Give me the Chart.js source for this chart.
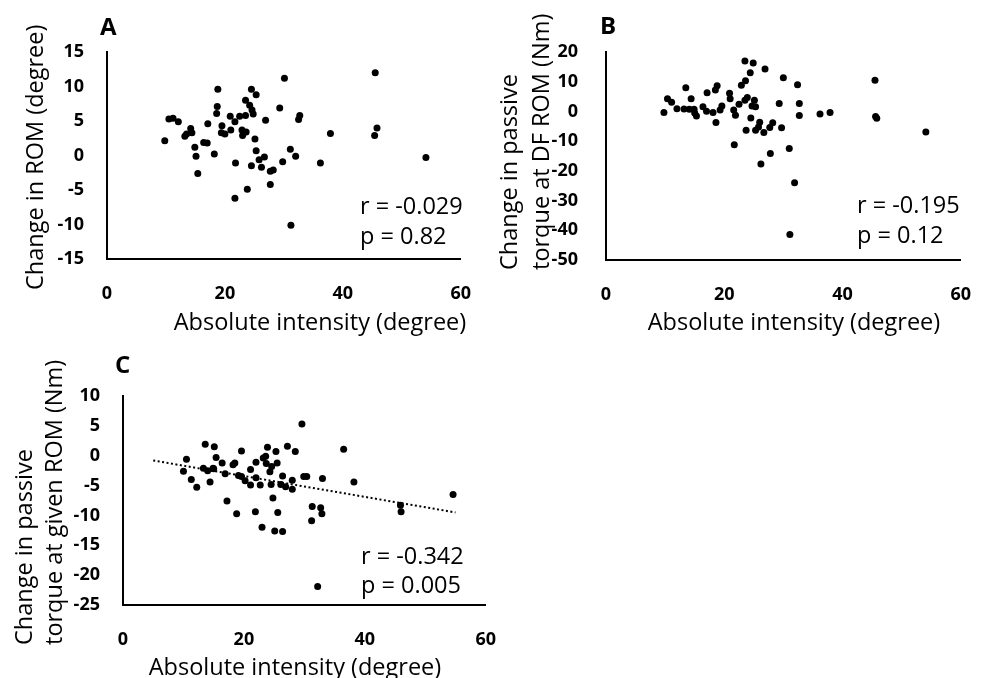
<!DOCTYPE html>
<html>
<head>
<meta charset="utf-8">
<script src="https://cdn.jsdelivr.net/npm/chart.js@4.4.1/dist/chart.umd.min.js"></script>
<style>
  body { margin: 0; background: #fff; width: 995px; height: 678px; overflow: hidden; position: relative; }
  .panel { position: absolute; }
</style>
</head>
<body>
<div class="panel" style="left:0;top:0;width:495px;height:340px"><canvas id="chartA"></canvas></div>
<div class="panel" style="left:490px;top:0;width:505px;height:340px"><canvas id="chartB"></canvas></div>
<div class="panel" style="left:0;top:330px;width:520px;height:348px"><canvas id="chartC"></canvas></div>
<script>
// ---- data ----
const xTicks = [0, 20, 40, 60];
const yTicksA = [-15, -10, -5, 0, 5, 10, 15];
const yTicksB = [-50, -40, -30, -20, -10, 0, 10, 20];
const yTicksC = [-25, -20, -15, -10, -5, 0, 5, 10];

const xTitle = 'Absolute intensity (degree)';
const yTitleA = ['Change in ROM (degree)'];
const yTitleB = ['Change in passive', 'torque at DF ROM (Nm)'];
const yTitleC = ['Change in passive', 'torque at given ROM (Nm)'];

const statsA = ['r = -0.029', 'p = 0.82'];
const statsB = ['r = -0.195', 'p = 0.12'];
const statsC = ['r = -0.342', 'p = 0.005'];

// A: change in ROM
const aX = [9.8, 10.5, 11.2, 12.1, 13.2, 13.5, 14.2, 14.4, 14.9, 15.1, 15.4, 16.4, 17.0, 17.1, 18.2, 18.6, 18.7, 18.8, 19.5, 19.4,
  20.0, 20.9, 21.0, 21.7, 21.8, 21.7, 22.5, 22.9, 23.0, 23.5, 23.5, 23.6, 23.8, 24.2, 24.5, 24.6, 24.8, 25.3, 24.5, 25.1,
  25.3, 25.8, 26.2, 26.7, 26.9, 27.7, 28.2, 27.7, 29.3, 29.8, 30.1, 31.1, 31.2, 32.0, 32.5, 32.7, 36.2, 37.9, 45.5, 45.8,
  45.4, 54.1];
const aY = [2.15, 5.3, 5.4, 4.9, 2.8, 3.1, 3.9, 3.3, 1.2, -0.1, -2.6, 1.9, 1.8, 4.6, 0.2, 6.1, 7.1, 9.6, 4.3, 3.3,
  3.1, 5.7, 3.7, 4.9, -1.1, -6.2, 5.7, 3.7, 2.9, 5.8, 8.0, 3.4, -4.9, 7.3, 9.6, 6.6, 6.0, 8.8, -1.5, 2.4,
  0.7, -0.6, -1.7, -0.2, 5.1, -2.3, -2.1, -4.2, 6.9, -0.9, 11.2, 0.9, -10.1, -0.1, 5.2, 5.8, -1.1, 3.2, 12.0, 4.0,
  2.9, -0.3];

// B: change in passive torque at DF ROM
const bX = [9.8, 10.4, 11.1, 12.0, 13.5, 13.2, 14.1, 14.4, 14.9, 15.3, 15.0, 16.4, 17.0, 17.1, 18.1, 18.5, 18.8, 18.6, 19.3, 19.6,
  20.9, 21.0, 21.6, 21.9, 21.7, 22.5, 22.9, 23.5, 23.6, 23.7, 23.5, 23.9, 24.4, 24.5, 24.9, 25.1, 25.3, 24.7, 25.3, 25.8,
  26.2, 26.0, 26.7, 26.9, 27.7, 27.8, 28.2, 29.3, 29.7, 30.0, 31.0, 31.1, 31.9, 32.4, 32.7, 32.7, 36.2, 37.9, 45.5, 45.6,
  45.8, 54.1];
const bY = [-0.4, 4.3, 3.1, 0.9, 8.0, 0.8, 0.7, 4.3, 0.7, -1.5, -0.5, 1.6, 0.1, 6.3, -0.4, 7.2, 8.6, -3.7, 0.5, 1.8,
  6.1, 4.3, 0.5, -1.3, -11.2, 2.4, 8.8, 17.0, 10.3, -6.3, 3.8, 4.7, 13.0, -2.2, 16.3, 3.8, 1.6, 1.8, -6.3, -5.2,
  -17.7, -3.6, -7.1, 14.3, -5.4, -14.2, -3.8, 2.7, -5.5, 11.3, -12.5, -41.4, -24.0, 9.0, 2.7, -1.4, -0.9, -0.4, 10.5, -1.7,
  -2.3, -6.9];

// C: change in passive torque at given ROM
const cX = [10.0, 10.5, 11.3, 12.2, 13.3, 13.6, 14.0, 14.4, 14.9, 15.0, 15.1, 15.4, 16.4, 16.9, 17.2, 18.2, 18.5, 18.8, 19.1, 19.6,
  19.6, 20.2, 21.1, 21.1, 21.9, 22.0, 22.0, 22.7, 23.0, 23.2, 23.6, 23.9, 23.7, 24.3, 24.6, 24.5, 24.8, 25.1, 25.3, 25.5,
  25.6, 26.1, 26.4, 26.4, 26.9, 27.2, 28.0, 28.0, 28.5, 29.6, 29.9, 30.4, 31.3, 31.2, 32.7, 32.9, 33.0, 32.2, 36.5, 38.2,
  45.9, 46.0, 54.6];
const cY = [-2.6, -0.6, -4.0, -5.3, -2.1, 1.9, -2.5, -4.4, -2.1, -2.2, 1.5, -0.3, -1.2, -3.0, -7.6, -1.5, -1.2, -9.7, -3.3, 0.8,
  -3.5, -4.2, -2.3, -4.9, -9.4, -3.7, -1.1, -4.9, -12.0, -0.4, -0.1, 1.4, -1.3, -2.7, -1.8, -4.8, -7.1, -12.6, 0.7, -1.2,
  -9.5, -4.8, -3.4, -12.7, -5.2, 1.6, -4.1, -5.6, 0.7, 5.3, -3.5, -3.5, -8.5, -10.9, -8.7, -9.7, -3.8, -21.9, 1.1, -4.4,
  -8.3, -9.4, -6.5];

// regression line shown in C
const trendX = [5, 55];
const trendY = [-0.8, -9.5];

// ---- drawing ----
Chart.defaults.font.family = "'Open Sans', sans-serif";
Chart.defaults.color = '#000';

const TEXT_FONT = "23.5px 'Open Sans'";
const LETTER_FONT = "bold 24px 'Open Sans'";

// draws panel letter, axis titles and r / p values as canvas text
const notesPlugin = {
  id: 'notes',
  afterDraw(chart, args, opts) {
    const ctx = chart.ctx;
    (opts.items || []).forEach(function (n) {
      ctx.save();
      ctx.font = n.font;
      ctx.fillStyle = '#000';
      ctx.textBaseline = 'alphabetic';
      ctx.textAlign = n.align || 'left';
      ctx.translate(n.x, n.y);
      if (n.rotate) ctx.rotate(-Math.PI / 2);
      ctx.fillText(n.text, 0, 0);
      ctx.restore();
    });
  }
};

function toPoints(xs, ys) {
  return xs.map(function (x, i) { return { x: x, y: ys[i] }; });
}

function buildNotes(p) {
  let items = [{ text: p.letter, x: p.letterPos[0], y: p.letterPos[1], font: LETTER_FONT }];
  p.yTitle.forEach(function (line, i) {
    items.push({ text: line, x: p.yTitleX[i], y: p.yTitleStart, font: TEXT_FONT, rotate: true });
  });
  items.push({ text: xTitle, x: p.xTitlePos[0], y: p.xTitlePos[1], font: TEXT_FONT, align: 'center' });
  p.stats.forEach(function (line, i) {
    items.push({ text: line, x: p.statX, y: p.statY[i], font: TEXT_FONT });
  });
  return items;
}

function makePanel(id, p) {
  let datasets = [{
    data: toPoints(p.xs, p.ys),
    backgroundColor: '#000',
    borderWidth: 0,
    pointRadius: 3.5
  }];
  if (p.trend) {
    datasets.push({
      data: toPoints(p.trend[0], p.trend[1]),
      showLine: true,
      borderColor: '#000',
      borderWidth: 2,
      borderDash: [2, 2.5],
      pointRadius: 0
    });
  }

  new Chart(document.getElementById(id), {
    type: 'scatter',
    data: { datasets: datasets },
    options: {
      responsive: true,
      maintainAspectRatio: false,
      animation: false,
      layout: { padding: { top: p.padTop, right: p.padRight, left: 0, bottom: 0 } },
      plugins: {
        legend: { display: false },
        tooltip: { enabled: false },
        notes: { items: buildNotes(p) }
      },
      scales: {
        x: {
          type: 'linear',
          min: xTicks[0],
          max: xTicks[xTicks.length - 1],
          afterBuildTicks: function (axis) { axis.ticks = xTicks.map(function (v) { return { value: v }; }); },
          afterFit: function (axis) { axis.height = p.xAxisHeight; },
          ticks: { padding: 24, color: '#000', font: { size: 18, weight: 'bold' }, callback: function (v) { return String(v); } },
          grid: { display: false, drawTicks: false },
          border: { display: true, color: '#000', width: 2 }
        },
        y: {
          type: 'linear',
          min: p.yTicks[0],
          max: p.yTicks[p.yTicks.length - 1],
          afterBuildTicks: function (axis) { axis.ticks = p.yTicks.map(function (v) { return { value: v }; }); },
          afterFit: function (axis) { axis.width = p.yAxisWidth; },
          ticks: { padding: p.yTickPad, color: '#000', font: { size: 18, weight: 'bold' }, callback: function (v) { return String(v); } },
          grid: { display: false, drawTicks: false },
          border: { display: true, color: '#000', width: 2 }
        }
      }
    },
    plugins: [notesPlugin]
  });
}

makePanel('chartA', {
  xs: aX, ys: aY, yTicks: yTicksA,
  padTop: 52, padRight: 8, yAxisWidth: 107, xAxisHeight: 81, yTickPad: 23,
  letter: 'A', letterPos: [100, 35],
  yTitle: yTitleA, yTitleX: [43], yTitleStart: 290,
  xTitlePos: [320, 330],
  stats: statsA, statX: 360, statY: [214, 244]
});

makePanel('chartB', {
  xs: bX, ys: bY, yTicks: yTicksB,
  padTop: 52, padRight: 13, yAxisWidth: 116, xAxisHeight: 80, yTickPad: 28,
  letter: 'B', letterPos: [110, 33.5],
  yTitle: yTitleB, yTitleX: [27, 59], yTitleStart: 270,
  xTitlePos: [304, 330],
  stats: statsB, statX: 367, statY: [213, 243]
});

makePanel('chartC', {
  xs: cX, ys: cY, yTicks: yTicksC, trend: [trendX, trendY],
  padTop: 66, padRight: 19, yAxisWidth: 123, xAxisHeight: 73, yTickPad: 23,
  letter: 'C', letterPos: [115, 42.5],
  yTitle: yTitleC, yTitleX: [32, 62], yTitleStart: 315,
  xTitlePos: [295, 344.5],
  stats: statsC, statX: 361, statY: [234, 263]
});
</script>
</body>
</html>
